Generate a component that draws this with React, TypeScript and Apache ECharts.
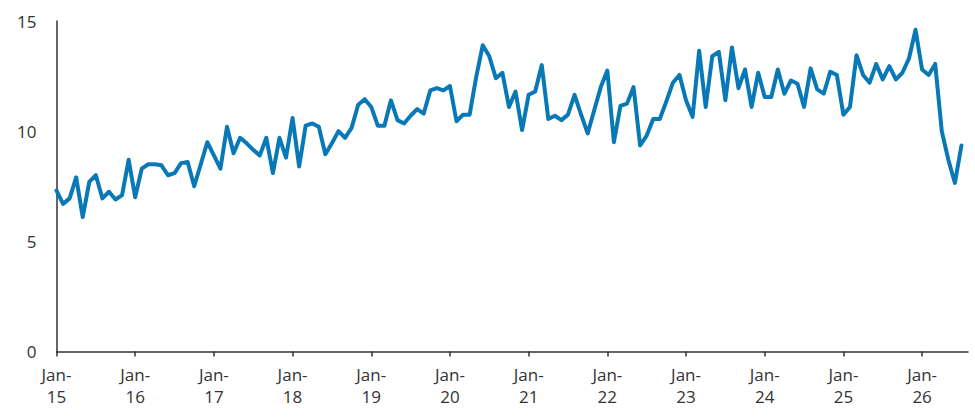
import React, { useEffect, useRef } from "react";
import * as echarts from "echarts";

const MONTHS = ["Jan", "Feb", "Mar", "Apr", "May", "Jun", "Jul", "Aug", "Sep", "Oct", "Nov", "Dec"];
const YEARS = ["15", "16", "17", "18", "19", "20", "21", "22", "23", "24", "25", "26"];
// axis runs from Jan-15 to Aug-26
const categories: string[] = [];
YEARS.forEach((y) => MONTHS.forEach((m) => categories.push(`${m}-${y}`)));
const axisCategories = categories.slice(0, 140);

const values2015 = [7.3, 6.7, 6.95, 7.9, 6.1, 7.7, 8.0, 6.95, 7.25, 6.9, 7.1, 8.7];
const values2016 = [7.0, 8.3, 8.5, 8.5, 8.45, 8.0, 8.1, 8.55, 8.6, 7.5, 8.5, 9.5];
const values2017 = [8.9, 8.3, 10.2, 9.0, 9.7, 9.45, 9.15, 8.9, 9.7, 8.1, 9.7, 8.8];
const values2018 = [10.6, 8.4, 10.25, 10.35, 10.2, 8.95, 9.45, 10.0, 9.7, 10.15, 11.2, 11.45];
const values2019 = [11.1, 10.25, 10.25, 11.4, 10.5, 10.35, 10.7, 11.0, 10.8, 11.85, 11.95, 11.85];
const values2020 = [12.05, 10.45, 10.75, 10.75, 12.45, 13.9, 13.4, 12.4, 12.65, 11.1, 11.8, 10.05];
const values2021 = [11.65, 11.8, 13.0, 10.55, 10.7, 10.5, 10.75, 11.65, 10.75, 9.9, 10.95, 12.0];
const values2022 = [12.75, 9.5, 11.15, 11.25, 12.0, 9.35, 9.8, 10.55, 10.55, 11.35, 12.2, 12.55];
const values2023 = [11.4, 10.65, 13.65, 11.1, 13.4, 13.6, 11.4, 13.8, 11.95, 12.8, 11.1, 12.65];
const values2024 = [11.55, 11.55, 12.8, 11.7, 12.3, 12.15, 11.1, 12.85, 11.9, 11.7, 12.7, 12.55];
const values2025 = [10.75, 11.1, 13.45, 12.55, 12.2, 13.05, 12.35, 12.95, 12.35, 12.65, 13.3, 14.6];
const values2026 = [12.8, 12.55, 13.05, 10.0, 8.7, 7.65, 9.35];

const seriesValues = [
  ...values2015, ...values2016, ...values2017, ...values2018, ...values2019, ...values2020,
  ...values2021, ...values2022, ...values2023, ...values2024, ...values2025, ...values2026,
];

const yTicks = { min: 0, max: 15, interval: 5 };

const FONT = "'Open Sans', Lato, sans-serif";
const TEXT = "#333333";

export default function App() {
  const ref = useRef<HTMLDivElement>(null);
  useEffect(() => {
    if (!ref.current) return;
    const chart = echarts.init(ref.current, undefined, { renderer: "svg" });
    chart.setOption({
      animation: false,
      backgroundColor: "#ffffff",
      grid: { left: 56.5, right: 7, top: 21, bottom: 67.5, containLabel: false },
      xAxis: {
        type: "category",
        boundaryGap: false,
        data: axisCategories,
        axisLine: { show: true, lineStyle: { color: TEXT, width: 1.5 } },
        axisTick: { show: true, interval: 11, length: 5, lineStyle: { color: TEXT, width: 1.5 } },
        axisLabel: {
          interval: 11,
          formatter: (v: string) => v.replace("-", "-\n"),
          fontSize: 17,
          lineHeight: 22,
          margin: 12,
          color: TEXT,
          fontFamily: FONT,
        },
        splitLine: { show: false },
      },
      yAxis: {
        type: "value",
        min: yTicks.min,
        max: yTicks.max,
        interval: yTicks.interval,
        axisLine: { show: true, lineStyle: { color: TEXT, width: 1.5 } },
        axisTick: { show: false },
        splitLine: { show: false },
        axisLabel: { fontSize: 17, margin: 20, color: TEXT, fontFamily: FONT },
      },
      series: [
        {
          type: "line",
          data: seriesValues,
          showSymbol: false,
          symbol: "none",
          lineStyle: { color: "#0879b6", width: 4, join: "round", cap: "round" },
          itemStyle: { color: "#0879b6" },
        },
      ],
    });
    return () => chart.dispose();
  }, []);
  return (
    <div
      ref={ref}
      style={{ position: "fixed", left: 0, top: 0, width: 975, height: 419, background: "#fff" }}
    />
  );
}
